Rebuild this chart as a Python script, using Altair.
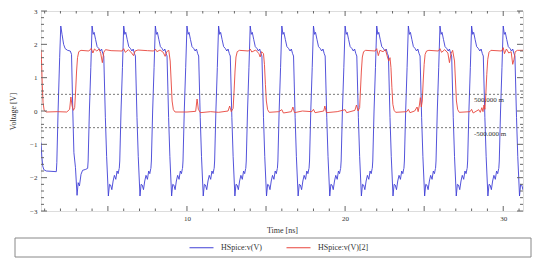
import altair as alt
import pandas as pd

# ---------------- data ----------------
series_names = ["HSpice:v(V)", "HSpice:v(V)[2]"]

# blue trace: start-up segment (time ns, voltage V)
blue_start_t = [0.77, 0.82, 0.88, 0.95, 1.10, 1.74, 1.77, 1.85, 1.95, 2.02, 2.10, 2.20,
                2.30, 2.45, 2.62, 2.70, 2.78, 2.85, 2.95, 3.05, 3.12, 3.20, 3.30, 3.40, 3.60]
blue_start_v = [-0.95, -1.35, -1.65, -1.76, -1.80, -1.82, -1.55, 0.00, 1.60, 2.55, 2.30, 2.00,
                1.87, 1.82, 1.80, 1.70, 0.00, -1.25, -1.70, -2.53, -2.15, -2.25, -1.90, -1.78, -1.75]

# blue trace: one clock cycle read around a peak (offset from peak ns, voltage V)
blue_cycle_dt = [-0.28, -0.25, -0.17, -0.08, 0.00, 0.07, 0.13, 0.22, 0.32, 0.42, 0.52, 0.60, 0.68,
                 0.74, 0.84, 0.92, 1.03, 1.10, 1.17, 1.25, 1.33, 1.41, 1.50, 1.58, 1.65, 1.71]
blue_cycle_v = [-1.72, -1.50, 0.00, 1.30, 2.55, 2.30, 2.36, 2.15, 1.93, 1.88, 1.80, 1.86, 1.72,
                1.65, -0.20, -1.37, -2.55, -2.20, -2.22, -2.36, -2.10, -1.93, -2.05, -1.80, -1.88, -1.73]
# peak times of the following cycles (ns)
blue_peak_times = [4, 6, 8, 10, 12, 14, 16, 18, 20, 22, 24, 26, 28, 30]

# red trace (time ns, voltage V)
red_t = [0.77, 0.80, 0.85, 0.90, 0.97, 1.10, 1.80, 2.40, 2.58, 2.66, 2.74, 2.82, 2.90, 2.96,
         3.02, 3.08, 3.16, 3.30, 3.80, 3.95, 4.05, 4.15, 4.30, 4.45, 4.55, 4.65, 4.74, 4.85,
         5.20, 5.90, 6.00, 6.10, 6.30, 6.50, 6.62, 6.72, 6.90, 7.50, 7.90, 8.00, 8.10, 8.30,
         8.50, 8.62, 8.72, 8.85, 8.94, 9.00, 9.06, 9.14, 9.25, 10.00, 10.55, 10.64, 10.72, 10.85,
         11.50, 12.00, 12.60, 12.70, 12.80, 12.92, 12.98, 13.04, 13.10, 13.18, 13.32, 13.90, 14.00,
         14.10, 14.35, 14.55, 14.63, 14.72, 14.84, 14.90, 14.96, 15.02, 15.10, 15.20, 15.80, 16.00,
         16.10, 16.60, 16.70, 16.80, 17.30, 17.90, 18.00, 18.10, 18.65, 18.72, 18.82, 19.50, 20.00,
         20.10, 20.62, 20.72, 20.82, 20.92, 20.97, 21.03, 21.09, 21.17, 21.30, 21.90, 22.00, 22.10,
         22.20, 22.40, 22.55, 22.68, 22.76, 22.84, 22.90, 22.96, 23.02, 23.10, 23.20, 23.90, 24.00,
         24.10, 24.40, 24.55, 24.62, 24.70, 24.76, 24.82, 24.88, 24.94, 25.00, 25.06, 25.15, 25.30,
         25.90, 26.00, 26.10, 26.30, 26.50, 26.60, 26.70, 26.80, 26.92, 26.98, 27.04, 27.12, 27.22,
         27.90, 28.00, 28.10, 28.45, 28.55, 28.65, 28.72, 28.78, 28.84, 28.90, 28.96, 29.02, 29.10,
         29.22, 29.90, 30.00, 30.08, 30.20, 30.35, 30.50, 30.60, 30.68, 30.76, 30.90, 31.25]
red_v = [1.84, 1.55, 0.80, 0.25, 0.02, -0.03, -0.02, -0.03, 0.05, 0.42, 0.15, 0.02, 0.10, 0.60,
         1.20, 1.60, 1.78, 1.82, 1.80, 1.88, 1.74, 1.86, 1.80, 1.86, 1.72, 1.45, 1.76, 1.84,
         1.81, 1.80, 1.87, 1.76, 1.84, 1.74, 1.66, 1.80, 1.83, 1.81, 1.80, 1.86, 1.78, 1.83,
         1.76, 1.64, 1.78, 1.82, 1.50, 0.90, 0.30, 0.04, -0.03, -0.03, -0.01, 0.36, 0.05, -0.05,
         -0.02, -0.04, 0.00, 0.15, -0.02, 0.08, 0.60, 1.20, 1.62, 1.78, 1.82, 1.80, 1.86,
         1.77, 1.83, 1.72, 1.62, 1.78, 1.72, 1.40, 0.80, 0.30, 0.04, -0.04, -0.02, 0.04,
         -0.06, -0.02, 0.12, -0.05, 0.00, -0.02, 0.05, -0.05, 0.00, 0.15, -0.05, -0.02, 0.04,
         -0.05, 0.02, 0.18, 0.00, 0.10, 0.60, 1.20, 1.62, 1.78, 1.82, 1.80, 1.87, 1.66,
         1.82, 1.78, 1.84, 1.62, 1.50, 1.60, 1.30, 0.70, 0.20, 0.02, -0.04, -0.02, 0.05,
         -0.05, 0.00, 0.12, -0.02, 0.18, 0.40, 0.12, 0.30, 0.90, 1.40, 1.70, 1.80, 1.82,
         1.80, 1.87, 1.76, 1.84, 1.74, 1.45, 1.72, 1.82, 1.50, 0.90, 0.30, 0.04, -0.04,
         -0.02, 0.05, -0.06, 0.04, -0.04, 0.10, -0.02, 0.18, 0.05, 0.50, 1.10, 1.55, 1.76,
         1.82, 1.80, 1.90, 1.72, 1.86, 1.74, 1.78, 1.40, 1.55, 1.78, 1.82, 1.82]

# reference levels and their labels
ref_levels = [0.5, -0.5]
ref_labels = ["500.000 m", "-500.000 m"]

# axis tick values
x_label_ticks = [10, 20, 30]
x_major_ticks = [5, 10, 15, 20, 25, 30]
x_minor_ticks = [1, 2, 3, 4, 6, 7, 8, 9, 11, 12, 13, 14, 16, 17, 18, 19, 21, 22, 23, 24,
                 26, 27, 28, 29, 31]
y_major_ticks = [-3, -2, -1, 0, 1, 2, 3]
y_minor_ticks = [-2.8, -2.6, -2.4, -2.2, -1.8, -1.6, -1.4, -1.2, -0.8, -0.6, -0.4, -0.2,
                 0.2, 0.4, 0.6, 0.8, 1.2, 1.4, 1.6, 1.8, 2.2, 2.4, 2.6, 2.8]

# ---------------- build tables ----------------
blue_t = list(blue_start_t)
blue_v = list(blue_start_v)
for p in blue_peak_times:
    for dt, v in zip(blue_cycle_dt, blue_cycle_v):
        blue_t.append(round(p + dt, 3))
        blue_v.append(v)

df = pd.DataFrame({
    "t": blue_t + red_t,
    "v": blue_v + red_v,
    "series": [series_names[0]] * len(blue_t) + [series_names[1]] * len(red_t),
})

FONT = "Liberation Serif"
AXC = "#666666"
TXT = "#333333"
BLUE = "#4040d6"
RED = "#e8453c"
W, H = 482, 200

xscale = alt.Scale(domain=[0.77, 31.25], nice=False, zero=False)
yscale = alt.Scale(domain=[-3, 3], nice=False, zero=False)

xaxis = alt.Axis(values=x_label_ticks, ticks=False, domain=False, grid=False,
                 labelFont=FONT, labelFontSize=7, labelColor=TXT, labelPadding=3,
                 title="Time [ns]", titleFont=FONT, titleFontSize=8,
                 titleFontWeight="normal", titleColor=TXT,
                 titleX=W / 2, titleY=19, titleBaseline="middle")
yaxis = alt.Axis(values=y_major_ticks, ticks=False, domain=False, grid=False,
                 labelFont=FONT, labelFontSize=7, labelColor=TXT, labelPadding=4,
                 title="Voltage [V]", titleFont=FONT, titleFontSize=8,
                 titleFontWeight="normal", titleColor=TXT, titleAngle=-90,
                 titleX=-28, titleY=H / 2, titleBaseline="middle", titleAlign="center")


def X():
    return alt.X("t:Q", scale=xscale, axis=xaxis, title="Time [ns]")


def Y():
    return alt.Y("v:Q", scale=yscale, axis=yaxis, title="Voltage [V]")


lines = alt.Chart(df).mark_line(strokeWidth=0.9, clip=True).encode(
    x=X(), y=Y(),
    color=alt.Color("series:N",
                    scale=alt.Scale(domain=series_names, range=[BLUE, RED]),
                    legend=alt.Legend(orient="none", legendX=148, legendY=224,
                                      direction="horizontal", title=None,
                                      symbolType="stroke", symbolSize=576,
                                      symbolStrokeWidth=1, labelFont=FONT,
                                      labelFontSize=8, labelColor=TXT, labelOffset=7,
                                      columnPadding=22, padding=0)),
)

refs = alt.Chart(pd.DataFrame({"v": ref_levels, "label": ref_labels}))
ref_rules = refs.mark_rule(color="#555555", strokeWidth=0.8, strokeDash=[2, 2]).encode(y=Y())
ref_text = refs.mark_text(align="left", baseline="middle", dy=6, font=FONT, fontSize=7,
                          color=TXT).encode(x=alt.value(433), y=Y(), text="label:N")


def xticks(vals, y1, y2):
    return alt.Chart(pd.DataFrame({"t": vals})).mark_rule(color=AXC, strokeWidth=1).encode(
        x=X(), y=alt.value(y1), y2=alt.value(y2))


def yticks(vals, x1, x2):
    return alt.Chart(pd.DataFrame({"v": vals})).mark_rule(color=AXC, strokeWidth=1).encode(
        y=Y(), x=alt.value(x1), x2=alt.value(x2))


tick_layers = [
    xticks(x_minor_ticks, H, H - 2.5), xticks(x_major_ticks, H, H - 5),
    xticks(x_minor_ticks, 0, 2.5), xticks(x_major_ticks, 0, 5),
    yticks(y_minor_ticks, 0, 3), yticks(y_major_ticks, 0, 6),
    yticks(y_minor_ticks, W, W - 3), yticks(y_major_ticks, W, W - 6),
]

legend_box = alt.Chart(pd.DataFrame({"a": [0]})).mark_rect(
    filled=False, stroke="#888888", strokeWidth=1).encode(
    x=alt.value(-26), x2=alt.value(490), y=alt.value(227), y2=alt.value(246))

chart = alt.layer(lines, ref_rules, ref_text, *tick_layers, legend_box).properties(
    width=W, height=H,
    autosize=alt.AutoSizeParams(type="none"),
    padding={"left": 41, "top": 11, "right": 18, "bottom": 55},
).configure_view(stroke=AXC, strokeWidth=1).configure(background="white")

chart.save("out.html", embed_options={"renderer": "svg", "actions": False})
